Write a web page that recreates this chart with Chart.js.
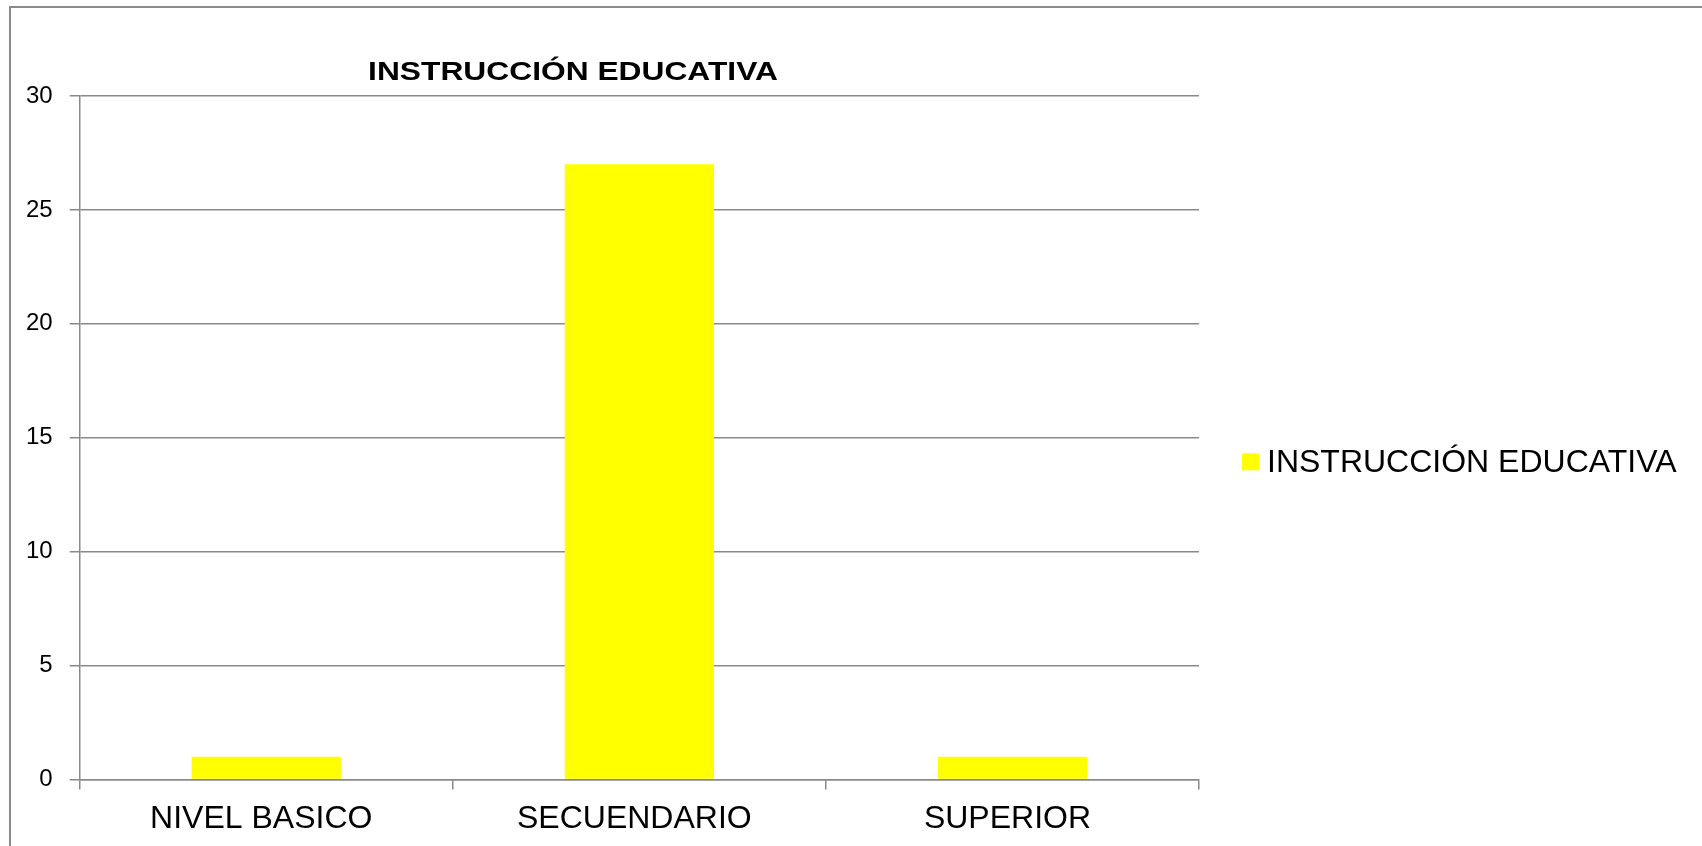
<!DOCTYPE html>
<html>
<head>
<meta charset="utf-8">
<script src="https://cdn.jsdelivr.net/npm/chart.js@4"></script>
<style>
  html, body { margin: 0; padding: 0; background: #fff; }
  canvas { display: block; }
</style>
</head>
<body>
<canvas id="eduChart" width="1702" height="846"></canvas>
<script>
// chart data
const categories = ["NIVEL BASICO", "SECUENDARIO", "SUPERIOR"];
const seriesName = "INSTRUCCIÓN EDUCATIVA";
const seriesValues = [1, 27, 1];
const chartTitle = "INSTRUCCIÓN EDUCATIVA";
const yMin = 0;
const yMax = 30;
const yStep = 5;

const gridColor = "#8a8a8a";
const barColor = "#ffff00";
const fontFamily = "'Liberation Sans', Arial, sans-serif";

// frame round the whole chart, like the spreadsheet chart box
const framePlugin = {
    id: "frame",
    beforeDraw(chart) {
        const ctx = chart.ctx;
        ctx.save();
        ctx.strokeStyle = gridColor;
        ctx.lineWidth = 2;
        ctx.beginPath();
        ctx.moveTo(10, chart.height + 5);
        ctx.lineTo(10, 7);
        ctx.lineTo(chart.width + 5, 7);
        ctx.stroke();
        ctx.restore();
    }
};

// title sits left of the plot centre in the original, so draw it here
const titlePlugin = {
    id: "sheetTitle",
    afterDraw(chart) {
        const ctx = chart.ctx;
        ctx.save();
        ctx.font = "bold 25px " + fontFamily;
        ctx.fillStyle = "#000";
        ctx.textAlign = "center";
        ctx.textBaseline = "alphabetic";
        ctx.translate(573, 80);
        ctx.scale(1.27, 1);
        ctx.fillText(chartTitle, 0, 0);
        ctx.restore();
    }
};

// the built-in right legend gets squeezed to half the free width, so the
// legend is drawn in the space kept free by layout.padding.right
const sideLegendPlugin = {
    id: "sideLegend",
    afterDraw(chart) {
        const ctx = chart.ctx;
        const area = chart.chartArea;
        const ds = chart.data.datasets[0];
        const boxX = area.right + 43;
        const midY = (area.top + area.bottom) / 2 + 24;
        ctx.save();
        ctx.fillStyle = ds.backgroundColor;
        ctx.fillRect(boxX, midY - 8.5, 17, 17);
        ctx.fillStyle = "#000";
        ctx.font = "32px " + fontFamily;
        ctx.textAlign = "left";
        ctx.textBaseline = "middle";
        ctx.fillText(ds.label, boxX + 25, midY + 1);
        ctx.restore();
    }
};

document.addEventListener("DOMContentLoaded", function () {
    const ctx = document.getElementById("eduChart").getContext("2d");
    Chart.defaults.font.family = fontFamily;
    Chart.defaults.color = "#000";

    new Chart(ctx, {
        type: "bar",
        data: {
            labels: categories,
            datasets: [{
                label: seriesName,
                data: seriesValues,
                backgroundColor: barColor,
                borderWidth: 0,
                barPercentage: 0.4,
                categoryPercentage: 1.0
            }]
        },
        options: {
            responsive: false,
            devicePixelRatio: 1,
            animation: false,
            layout: {
                padding: { left: 9, right: 503, top: 96, bottom: -2 }
            },
            plugins: {
                title: { display: false },
                tooltip: { enabled: false },
                legend: { display: false }
            },
            scales: {
                x: {
                    grid: {
                        drawOnChartArea: false,
                        drawTicks: true,
                        tickLength: 10,
                        color: gridColor,
                        lineWidth: 1.5
                    },
                    border: { color: gridColor, width: 1.5 },
                    ticks: {
                        padding: 10,
                        labelOffset: -5,
                        font: { size: 32, lineHeight: 1.2 }
                    }
                },
                y: {
                    min: yMin,
                    max: yMax,
                    ticks: {
                        stepSize: yStep,
                        padding: 17,
                        font: { size: 24 }
                    },
                    grid: {
                        color: gridColor,
                        lineWidth: 1.5,
                        tickLength: 10
                    },
                    border: { color: gridColor, width: 1.5 }
                }
            }
        },
        plugins: [framePlugin, titlePlugin, sideLegendPlugin]
    });
});
</script>
</body>
</html>
